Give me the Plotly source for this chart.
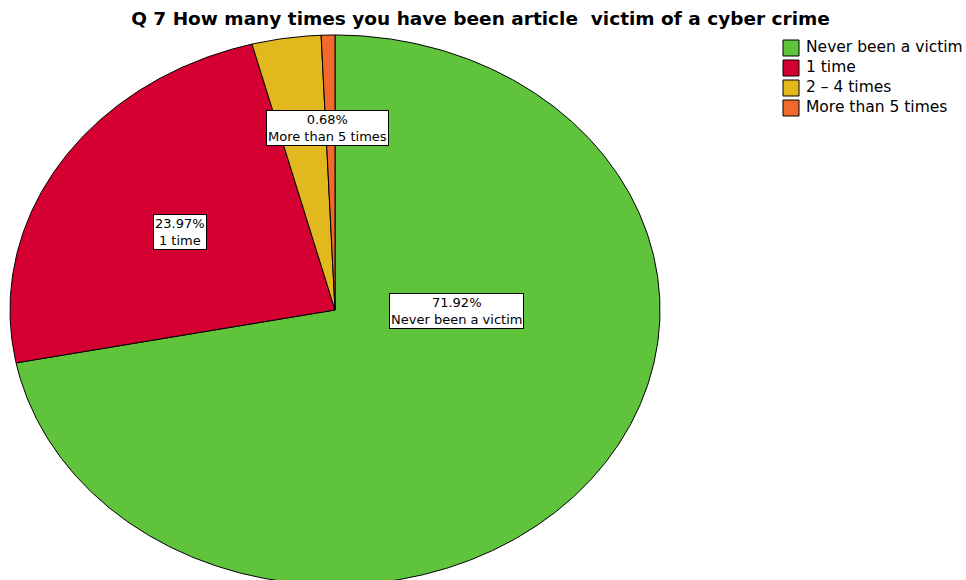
import numpy as np
import plotly.graph_objects as go

# Survey responses: share of respondents by number of times victimised
categories = ["Never been a victim", "1 time", "2 \u2013 4 times", "More than 5 times"]
percentages = [71.92, 23.97, 3.43, 0.68]
colors = ["#5fc43b", "#d50032", "#e1b91f", "#f26a2b"]
# Which slices carry a value label, and where the label box sits (unit-pie coords)
show_label = [True, True, False, True]
label_pos = [(0.375, -0.004), (-0.477, 0.284), None, (-0.022, 0.662)]

title = "Q 7 How many times you have been article  victim of a cyber crime"
FONT = "DejaVu Sans, Arial, sans-serif"

fig = go.Figure()

# Slices drawn clockwise from 12 o'clock on a unit pie; axis ranges stretch it
total = sum(percentages)
start = 0.0
for name, pct, col in zip(categories, percentages, colors):
    frac = pct / total
    n = max(int(frac * 720), 4)
    theta = 2 * np.pi * (start + np.linspace(0, frac, n))
    xs = np.concatenate([[0], np.sin(theta), [0]])
    ys = np.concatenate([[0], np.cos(theta), [0]])
    fig.add_trace(go.Scatter(
        x=xs, y=ys, mode="lines", fill="toself", fillcolor=col,
        line=dict(color="black", width=1), name=name,
        showlegend=False, hoverinfo="name",
    ))
    start += frac

# Legend: square swatches and their names, stacked on a separate axis
rows = list(range(len(categories)))
fig.add_trace(go.Scatter(
    x=[791] * len(categories), y=rows, xaxis="x2", yaxis="y2", mode="markers",
    marker=dict(symbol="square", size=16, color=colors,
                line=dict(color="black", width=1)),
    showlegend=False, hoverinfo="skip",
))
fig.add_trace(go.Scatter(
    x=[806] * len(categories), y=rows, xaxis="x2", yaxis="y2", mode="text",
    text=categories, textposition="middle right",
    textfont=dict(family=FONT, size=15.5, color="black"),
    showlegend=False, hoverinfo="skip",
))

# Value labels in white boxes
for name, pct, show, pos in zip(categories, percentages, show_label, label_pos):
    if not show:
        continue
    fig.add_annotation(
        x=pos[0], y=pos[1], xref="x", yref="y",
        text=f"{pct:.2f}%<br>{name}", showarrow=False,
        font=dict(family=FONT, size=13, color="black"),
        bgcolor="white", bordercolor="black", borderwidth=1, borderpad=1,
        align="center",
    )

fig.update_layout(
    width=966, height=580,
    margin=dict(l=0, r=0, t=0, b=0),
    paper_bgcolor="white", plot_bgcolor="white",
    title=dict(text=f"<b>{title}</b>", x=480.5 / 966, xanchor="center",
               y=1 - 19 / 580, yanchor="middle",
               font=dict(family=FONT, size=18.5, color="black")),
    xaxis=dict(range=[-335 / 325, (966 - 335) / 325], visible=False,
               domain=[0, 1], fixedrange=True),
    yaxis=dict(range=[-(580 - 310) / 275, 310 / 275], visible=False,
               domain=[0, 1], fixedrange=True),
    xaxis2=dict(range=[0, 966], visible=False, domain=[0, 1],
                anchor="y2", overlaying="x", fixedrange=True),
    yaxis2=dict(range=[26.6, -2.4], visible=False, domain=[0, 1],
                anchor="x2", overlaying="y", fixedrange=True),
    showlegend=False,
)

fig.write_html("out.html")
